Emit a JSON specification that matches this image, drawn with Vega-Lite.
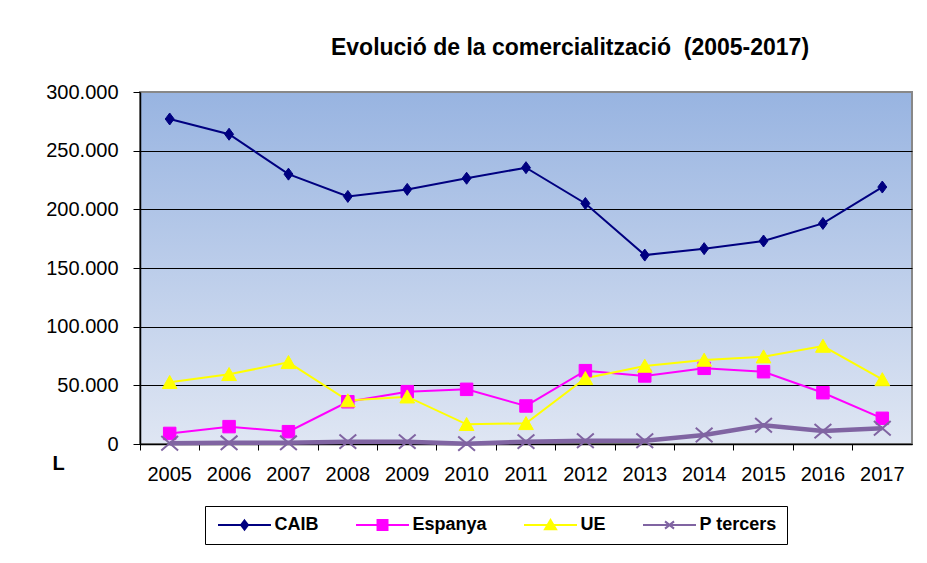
{
  "$schema": "https://vega.github.io/schema/vega-lite/v6.json",
  "width": 772,
  "height": 352,
  "autosize": {"type": "none"},
  "padding": {"left": 140, "top": 92, "right": 15, "bottom": 119},
  "background": "white",
  "config": {
    "locale": {"number": {"decimal": ",", "thousands": ".", "grouping": [3], "currency": ["", " €"]}},
    "font": "Liberation Sans",
    "view": {
      "stroke": "#888888",
      "strokeWidth": 2,
      "fill": {"gradient": "linear", "x1": 0, "y1": 0, "x2": 0, "y2": 1, "stops": [{"offset": 0, "color": "#98B4E1"}, {"offset": 1, "color": "#DFE6F3"}]}
    },
    "legend": {
      "orient": "none",
      "legendX": 65,
      "legendY": 414,
      "direction": "horizontal",
      "strokeColor": "black",
      "fillColor": "white",
      "padding": 10,
      "symbolSize": 144,
      "symbolStrokeWidth": 2,
      "symbolOpacity": 1,
      "labelOffset": 41.5,
      "columnPadding": 33,
      "labelFontSize": 18,
      "labelFontWeight": "bold",
      "labelFont": "Liberation Sans",
      "labelColor": "black"
    }
  },
  "title": {
    "text": "Evolució de la comercialització \u00a0(2005-2017)",
    "fontSize": 23,
    "fontWeight": "bold",
    "font": "Liberation Sans",
    "color": "black",
    "anchor": "middle",
    "dx": 44,
    "offset": 22
  },
  "data": {
    "values": [
      {"Any": "2005", "Serie": "CAIB", "Valor": 277000},
      {"Any": "2006", "Serie": "CAIB", "Valor": 264000},
      {"Any": "2007", "Serie": "CAIB", "Valor": 230000},
      {"Any": "2008", "Serie": "CAIB", "Valor": 211000},
      {"Any": "2009", "Serie": "CAIB", "Valor": 217000},
      {"Any": "2010", "Serie": "CAIB", "Valor": 226500},
      {"Any": "2011", "Serie": "CAIB", "Valor": 235500},
      {"Any": "2012", "Serie": "CAIB", "Valor": 205000},
      {"Any": "2013", "Serie": "CAIB", "Valor": 161000},
      {"Any": "2014", "Serie": "CAIB", "Valor": 166500},
      {"Any": "2015", "Serie": "CAIB", "Valor": 173000},
      {"Any": "2016", "Serie": "CAIB", "Valor": 188000},
      {"Any": "2017", "Serie": "CAIB", "Valor": 219000},
      {"Any": "2005", "Serie": "Espanya", "Valor": 9000},
      {"Any": "2006", "Serie": "Espanya", "Valor": 14800},
      {"Any": "2007", "Serie": "Espanya", "Valor": 10500},
      {"Any": "2008", "Serie": "Espanya", "Valor": 36000},
      {"Any": "2009", "Serie": "Espanya", "Valor": 44600},
      {"Any": "2010", "Serie": "Espanya", "Valor": 46600},
      {"Any": "2011", "Serie": "Espanya", "Valor": 32400},
      {"Any": "2012", "Serie": "Espanya", "Valor": 62500},
      {"Any": "2013", "Serie": "Espanya", "Valor": 58000},
      {"Any": "2014", "Serie": "Espanya", "Valor": 64500},
      {"Any": "2015", "Serie": "Espanya", "Valor": 61600},
      {"Any": "2016", "Serie": "Espanya", "Valor": 43700},
      {"Any": "2017", "Serie": "Espanya", "Valor": 21900},
      {"Any": "2005", "Serie": "UE", "Valor": 52600},
      {"Any": "2006", "Serie": "UE", "Valor": 59400},
      {"Any": "2007", "Serie": "UE", "Valor": 69600},
      {"Any": "2008", "Serie": "UE", "Valor": 37000},
      {"Any": "2009", "Serie": "UE", "Valor": 40300},
      {"Any": "2010", "Serie": "UE", "Valor": 16800},
      {"Any": "2011", "Serie": "UE", "Valor": 17600},
      {"Any": "2012", "Serie": "UE", "Valor": 56000},
      {"Any": "2013", "Serie": "UE", "Valor": 66500},
      {"Any": "2014", "Serie": "UE", "Valor": 71600},
      {"Any": "2015", "Serie": "UE", "Valor": 74400},
      {"Any": "2016", "Serie": "UE", "Valor": 83500},
      {"Any": "2017", "Serie": "UE", "Valor": 55000},
      {"Any": "2005", "Serie": "P tercers", "Valor": 600},
      {"Any": "2006", "Serie": "P tercers", "Valor": 1000},
      {"Any": "2007", "Serie": "P tercers", "Valor": 1000},
      {"Any": "2008", "Serie": "P tercers", "Valor": 2000},
      {"Any": "2009", "Serie": "P tercers", "Valor": 2000},
      {"Any": "2010", "Serie": "P tercers", "Valor": 300},
      {"Any": "2011", "Serie": "P tercers", "Valor": 2000},
      {"Any": "2012", "Serie": "P tercers", "Valor": 2800},
      {"Any": "2013", "Serie": "P tercers", "Valor": 2800},
      {"Any": "2014", "Serie": "P tercers", "Valor": 7700},
      {"Any": "2015", "Serie": "P tercers", "Valor": 16000},
      {"Any": "2016", "Serie": "P tercers", "Valor": 11000},
      {"Any": "2017", "Serie": "P tercers", "Valor": 13400}
    ]
  },
  "encoding": {
    "x": {
      "field": "Any",
      "type": "ordinal",
      "scale": {"type": "band", "paddingInner": 0, "paddingOuter": 0},
      "axis": {
        "title": null,
        "labelAngle": 0,
        "labelFontSize": 20,
        "labelColor": "black",
        "bandPosition": 0,
        "labelDx": 29.7,
        "labelAlign": "center",
        "labelOverlap": false,
        "labelFlush": false,
        "tickSize": 6,
        "tickColor": "black",
        "domainColor": "black",
        "domainWidth": 1.5,
        "labelPadding": 14,
        "grid": false
      }
    },
    "y": {
      "field": "Valor",
      "type": "quantitative",
      "scale": {"domain": [0, 300000]},
      "axis": {
        "values": [0, 50000, 100000, 150000, 200000, 250000, 300000],
        "format": ",d",
        "labelFontSize": 20,
        "labelColor": "black",
        "labelPadding": 15,
        "tickSize": 7,
        "tickColor": "black",
        "domainColor": "black",
        "domainWidth": 1.5,
        "gridColor": {"condition": {"test": "datum.value === 300000", "value": "#888888"}, "value": "black"},
        "gridWidth": 1,
        "title": "L",
        "titleAngle": 0,
        "titleAlign": "left",
        "titleBaseline": "alphabetic",
        "titleX": -88,
        "titleY": 377,
        "titleFontSize": 20,
        "titleFontWeight": "bold",
        "titleColor": "black"
      }
    }
  },
  "layer": [
    {
      "transform": [{"filter": "datum.Serie !== 'P tercers'"}],
      "mark": {"type": "line", "strokeWidth": 2},
      "encoding": {
        "color": {
          "field": "Serie",
          "type": "nominal",
          "title": null,
          "scale": {"domain": ["CAIB", "Espanya", "UE", "P tercers"], "range": ["#000080", "#FF00FF", "#FFFF00", "#8064A2"]}
        }
      }
    },
    {
      "transform": [{"filter": "datum.Serie === 'P tercers'"}],
      "mark": {"type": "line", "strokeWidth": 4.5, "color": "#8064A2"},
      "encoding": {}
    },
    {
      "mark": {"type": "point", "filled": true, "opacity": 0, "size": 144},
      "encoding": {
        "color": {
          "field": "Serie",
          "type": "nominal",
          "title": null,
          "scale": {"domain": ["CAIB", "Espanya", "UE", "P tercers"], "range": ["#000080", "#FF00FF", "#FFFF00", "#8064A2"]}
        },
        "stroke": {
          "field": "Serie",
          "type": "nominal",
          "title": null,
          "scale": {"domain": ["CAIB", "Espanya", "UE", "P tercers"], "range": ["#000080", "#FF00FF", "#FFFF00", "#8064A2"]}
        },
        "shape": {
          "field": "Serie",
          "type": "nominal",
          "title": null,
          "scale": {"domain": ["CAIB", "Espanya", "UE", "P tercers"], "range": ["M-1,0H7.83M3.42,-0.75L4,0L3.42,0.75L2.84,0Z", "M-1,0H7.83M2.59,-0.83H4.25V0.83H2.59Z", "M-1,0H7.83M3.42,-0.85L4.34,0.7H2.5Z", "M-1,0H7.83M2.67,-0.6L4.17,0.6M2.67,0.6L4.17,-0.6"]}
        }
      }
    },
    {
      "transform": [{"filter": "datum.Serie === 'CAIB'"}],
      "mark": {"type": "point", "filled": true, "size": 256, "opacity": 1, "strokeWidth": 1, "shape": "M0,-0.75L0.56,0L0,0.75L-0.56,0Z", "fill": "#000080", "stroke": "#000080"},
      "encoding": {}
    },
    {
      "transform": [{"filter": "datum.Serie === 'Espanya'"}],
      "mark": {"type": "point", "filled": true, "size": 256, "opacity": 1, "strokeWidth": 1, "shape": "M-0.78,-0.78H0.78V0.78H-0.78Z", "fill": "#FF00FF", "stroke": "#FF00FF"},
      "encoding": {}
    },
    {
      "transform": [{"filter": "datum.Serie === 'UE'"}],
      "mark": {"type": "point", "filled": true, "size": 256, "opacity": 1, "strokeWidth": 1, "shape": "M0,-0.85L0.92,0.78H-0.92Z", "fill": "#FFFF00", "stroke": "#FFFF00"},
      "encoding": {}
    },
    {
      "transform": [{"filter": "datum.Serie === 'P tercers'"}],
      "mark": {"type": "point", "filled": false, "size": 256, "opacity": 1, "strokeWidth": 2, "shape": "M-1.05,-0.9L1.05,0.9M-1.05,0.9L1.05,-0.9", "stroke": "#8064A2"},
      "encoding": {}
    }
  ]
}
